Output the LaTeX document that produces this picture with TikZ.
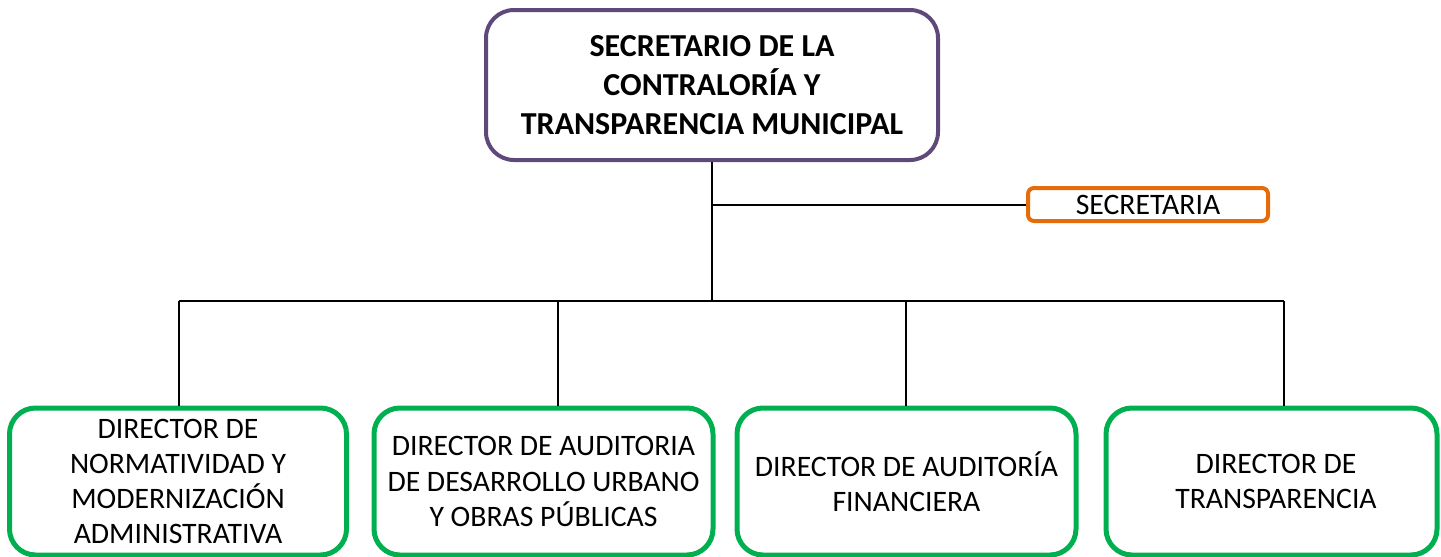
\documentclass[tikz,border=0pt]{standalone}
\usepackage{fontspec}
\setmainfont{Carlito}
\definecolor{boxpurple}{HTML}{5F497A}
\definecolor{boxorange}{HTML}{E46C0A}
\definecolor{boxgreen}{HTML}{00B050}
\begin{document}
\begin{tikzpicture}[x=1pt,y=-1pt,
  topbox/.style={draw=boxpurple,line width=4pt,rounded corners=28pt,minimum width=452pt,minimum height=150pt,inner sep=0pt,align=center,font=\fontsize{32}{39}\selectfont\bfseries},
  secbox/.style={draw=boxorange,line width=4pt,rounded corners=6pt,minimum width=240pt,minimum height=33pt,inner sep=0pt,align=center,font=\fontsize{29.7}{35}\selectfont},
  dirbox/.style={draw=boxgreen,line width=5pt,rounded corners=26pt,minimum height=147pt,inner sep=0pt,align=center,font=\fontsize{29.7}{35.3}\selectfont},
  conn/.style={draw=black,line width=2pt}]
\useasboundingbox (0,0) rectangle (1441,557);
\node[topbox] (top) at (712,85) {SECRETARIO DE LA\\CONTRALORÍA Y\\TRANSPARENCIA MUNICIPAL};
\node[secbox] (sec) at (1148,204.5) {SECRETARIA};
\node[dirbox,minimum width=337pt] (d1) at (178,481.5) {DIRECTOR DE\\NORMATIVIDAD Y\\MODERNIZACIÓN\\ADMINISTRATIVA};
\node[dirbox,minimum width=339pt] (d2) at (543.5,481.5) {DIRECTOR DE AUDITORIA\\DE DESARROLLO URBANO\\Y OBRAS PÚBLICAS};
\node[dirbox,minimum width=339pt] (d3) at (906.5,481.5) {DIRECTOR DE AUDITORÍA\\FINANCIERA};
\node[dirbox,minimum width=331pt] (d4) at (1271.5,481.5) {\hspace*{9pt}DIRECTOR DE\\\hspace*{9pt}TRANSPARENCIA};
\coordinate (j) at (712,301);
\coordinate (b1) at (179,301);
\coordinate (b2) at (558,301);
\coordinate (b3) at (906,301);
\coordinate (b4) at (1284,301);
\draw[conn] (top.south) -- (j);
\draw[conn] (top.south |- sec.west) -- (sec.west);
\draw[conn] (b1) -- (b4);
\draw[conn] (b1) -- (b1 |- d1.north);
\draw[conn] (b2) -- (b2 |- d2.north);
\draw[conn] (b3) -- (b3 |- d3.north);
\draw[conn] (b4) -- (b4 |- d4.north);
\end{tikzpicture}
\end{document}
